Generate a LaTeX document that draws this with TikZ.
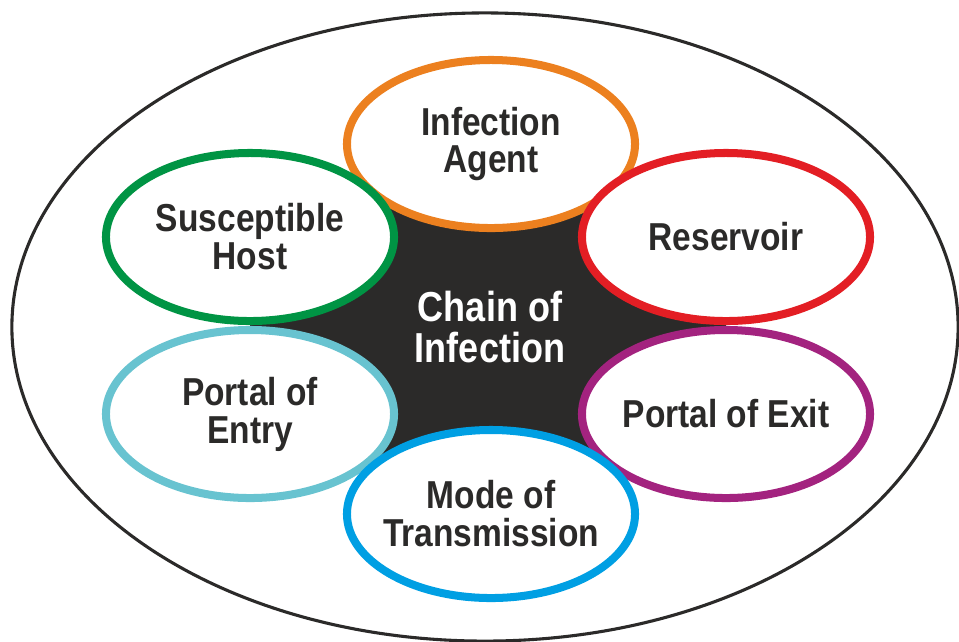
\documentclass[tikz,border=0pt]{standalone}
\usepackage{fontspec}
\setmainfont{Liberation Sans}
\newfontfamily\stagefont[FakeStretch=0.86]{Liberation Sans Bold}
\usetikzlibrary{shapes}
\definecolor{inkgray}{RGB}{43,42,41}
\definecolor{agentorange}{RGB}{236,128,31}
\definecolor{reservoirred}{RGB}{227,30,36}
\definecolor{exitpurple}{RGB}{163,35,127}
\definecolor{modeblue}{RGB}{0,159,227}
\definecolor{entrycyan}{RGB}{104,195,208}
\definecolor{hostgreen}{RGB}{0,148,68}
\begin{document}
\begin{tikzpicture}[x=0.025cm,y=-0.025cm,
stage/.style={ellipse,draw,line width=5.7pt,fill=white,
  minimum width=7.2cm,minimum height=4.2cm,inner ysep=0pt,inner xsep=-12pt,
  align=center,text=inkgray,
  font=\stagefont\fontsize{27.7}{27}\selectfont}]
\useasboundingbox (0,0) rectangle (959,641);
\node[ellipse,draw=inkgray,line width=2.2pt,minimum width=23.65cm,
  minimum height=15.7cm] (outer) at (485,327) {};
\coordinate (ag) at (491,144);
\coordinate (rs) at (726,237);
\coordinate (ex) at (726,414);
\coordinate (md) at (491,514);
\coordinate (en) at (250,414);
\coordinate (hs) at (250,237);
\fill[inkgray] (ag) -- (rs) -- (ex) -- (md) -- (en) -- (hs) -- cycle;
\node[stage,draw=agentorange] (agent) at (ag) {Infection\\Agent};
\node[stage,draw=reservoirred] (reservoir) at (rs) {Reservoir};
\node[stage,draw=exitpurple] (exit) at (ex) {Portal of Exit};
\node[stage,draw=hostgreen] (host) at (hs) {Susceptible\\Host};
\node[stage,draw=entrycyan] (entry) at (en) {Portal of\\Entry};
\node[stage,draw=modeblue] (mode) at (md) {Mode of\\Transmission};
\node[align=center,text=white,font=\stagefont\fontsize{29.8}{28.5}\selectfont]
  (chain) at (490,327) {Chain of\\Infection};
\end{tikzpicture}
\end{document}
